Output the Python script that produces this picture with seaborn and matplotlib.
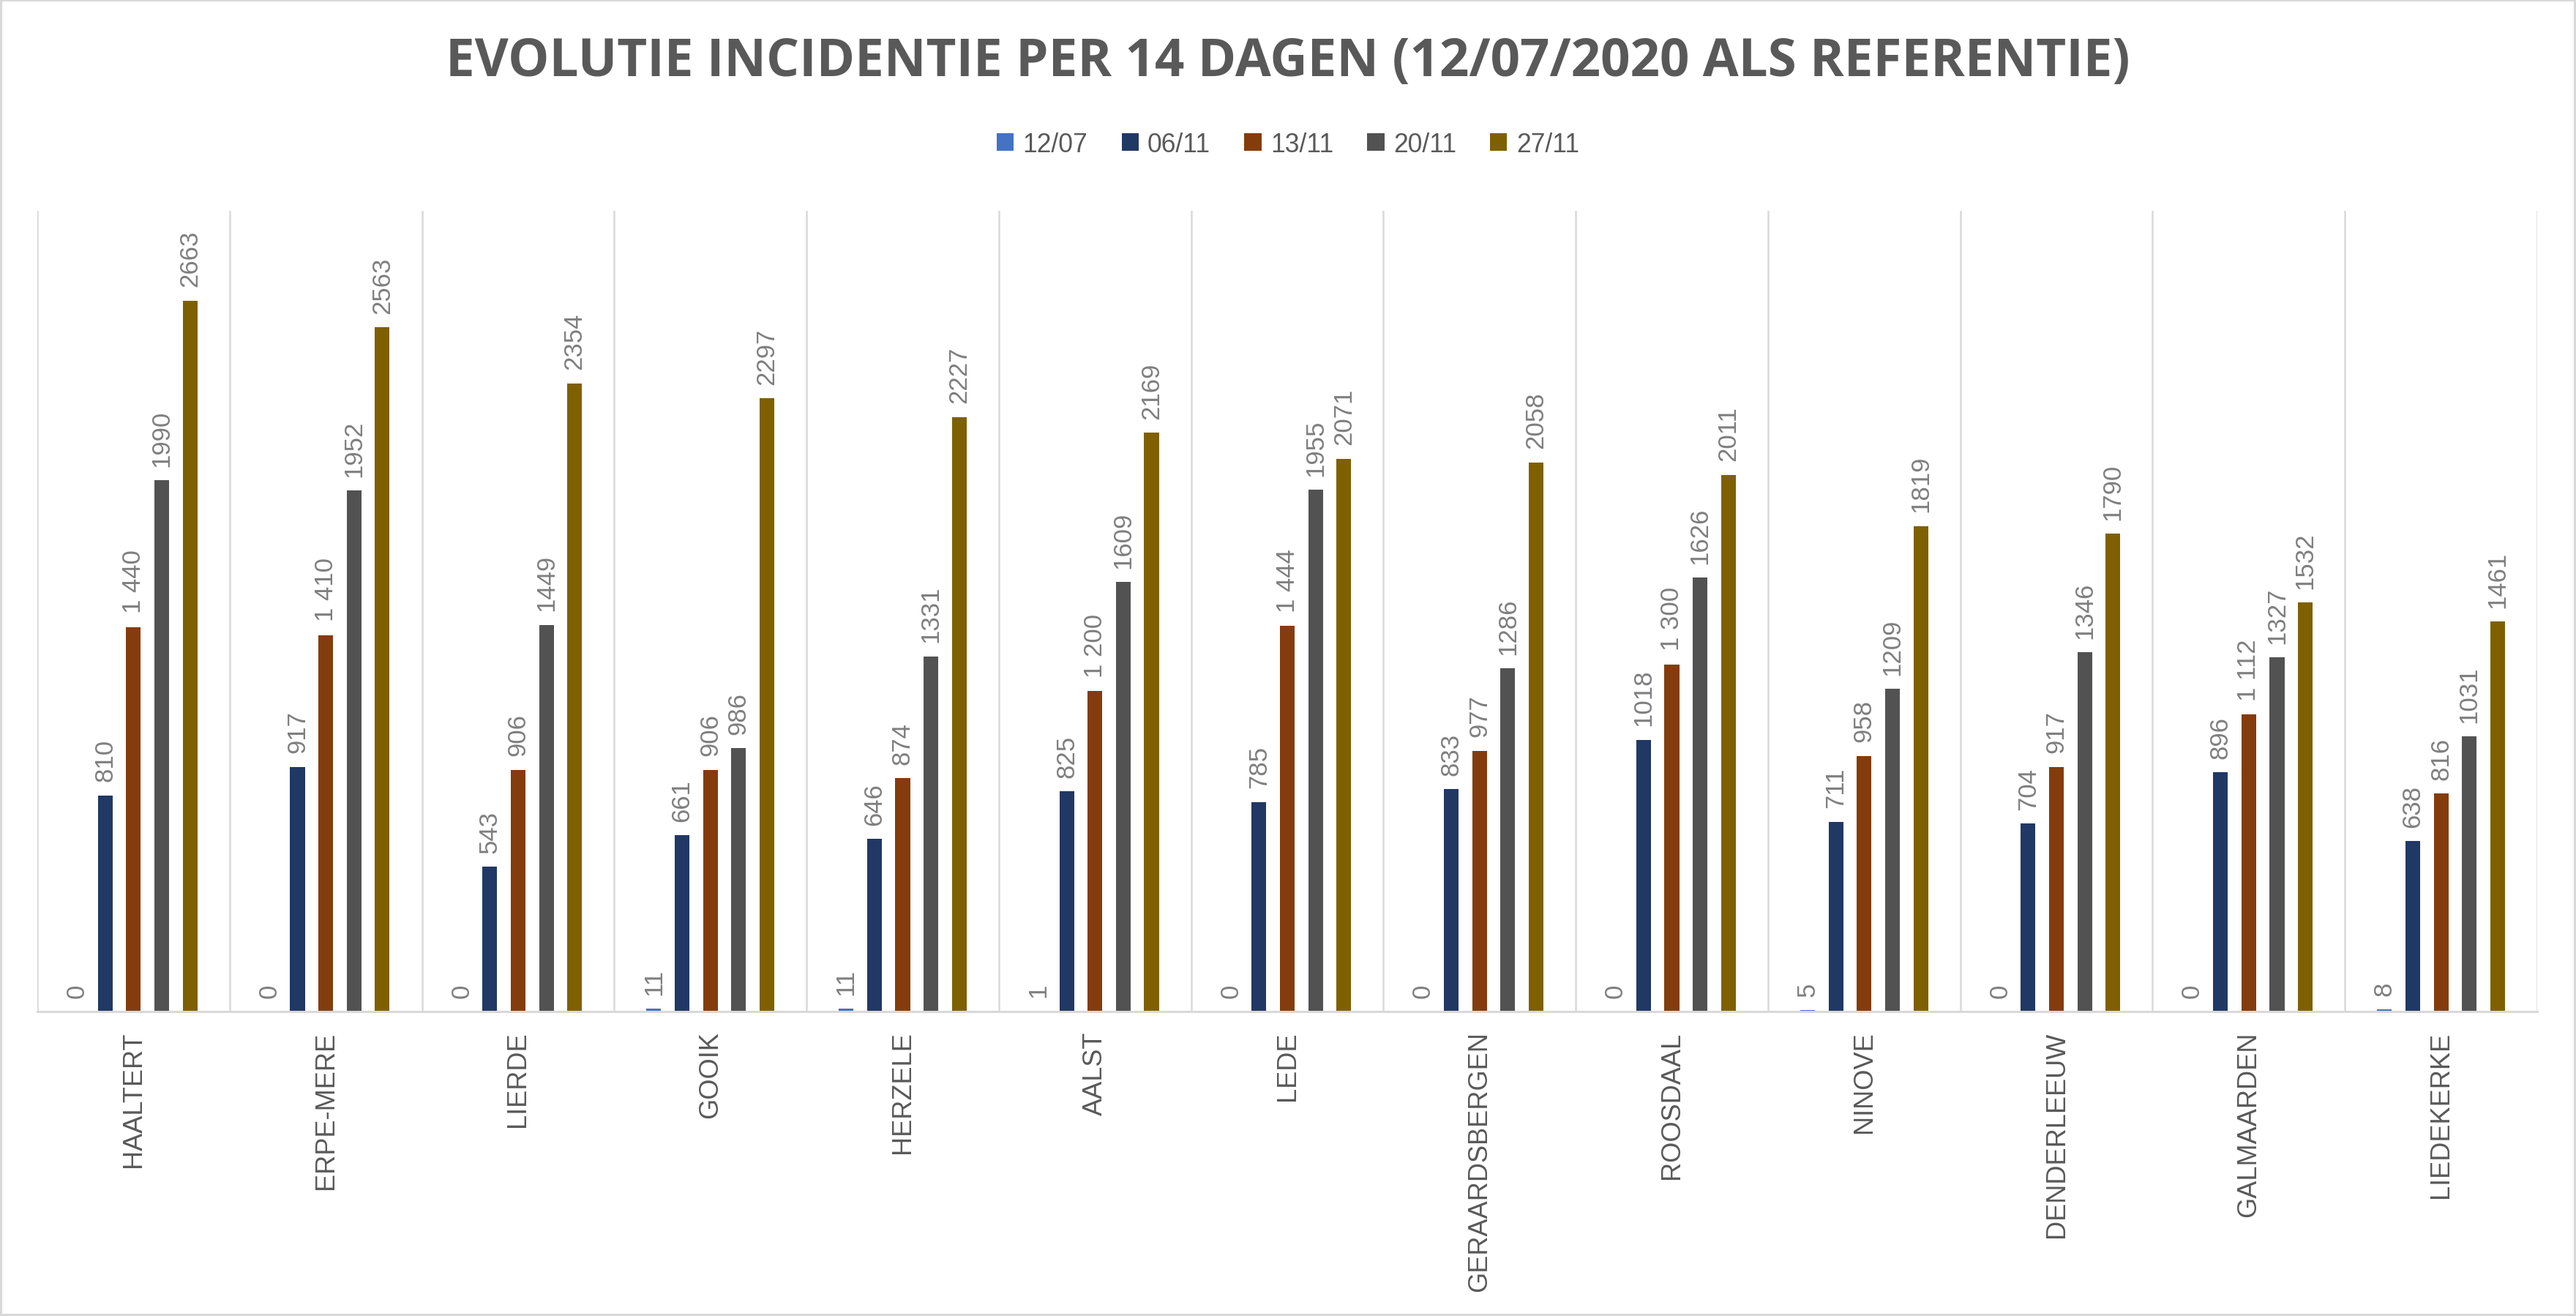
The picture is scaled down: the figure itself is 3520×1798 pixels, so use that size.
import numpy as np
import pandas as pd
import matplotlib
matplotlib.use("Agg")
import matplotlib.pyplot as plt
import seaborn as sns
from matplotlib.patches import Rectangle

# ---------------- data ----------------
gemeenten = ["HAALTERT", "ERPE-MERE", "LIERDE", "GOOIK", "HERZELE", "AALST", "LEDE",
             "GERAARDSBERGEN", "ROOSDAAL", "NINOVE", "DENDERLEEUW", "GALMAARDEN", "LIEDEKERKE"]
datums = ["12/07", "06/11", "13/11", "20/11", "27/11"]

v_1207 = [0, 0, 0, 11, 11, 1, 0, 0, 0, 5, 0, 0, 8]
v_0611 = [810, 917, 543, 661, 646, 825, 785, 833, 1018, 711, 704, 896, 638]
v_1311 = [1440, 1410, 906, 906, 874, 1200, 1444, 977, 1300, 958, 917, 1112, 816]
v_2011 = [1990, 1952, 1449, 986, 1331, 1609, 1955, 1286, 1626, 1209, 1346, 1327, 1031]
v_2711 = [2663, 2563, 2354, 2297, 2227, 2169, 2071, 2058, 2011, 1819, 1790, 1532, 1461]

series = {"12/07": v_1207, "06/11": v_0611, "13/11": v_1311, "20/11": v_2011, "27/11": v_2711}
# series whose data labels use a space as thousands separator
space_sep = ["13/11"]

kleuren = ["#4472C4", "#203864", "#843C0C", "#525252", "#7F6000"]

title = "EVOLUTIE INCIDENTIE PER 14 DAGEN (12/07/2020 ALS REFERENTIE)"

rows = []
for d in datums:
    for g, v in zip(gemeenten, series[d]):
        rows.append({"gemeente": g, "datum": d, "waarde": v})
df = pd.DataFrame(rows)

# ---------------- figure ----------------
sns.set_theme(style="white")
plt.rcParams["font.family"] = ["Liberation Sans", "DejaVu Sans"]

W, H, DPI = 3520, 1799, 200
fig = plt.figure(figsize=(W / DPI, H / DPI), dpi=DPI, facecolor="white")

left, right, top, bottom = 51, 3467, 289, 1383
ax = fig.add_axes([left / W, 1 - bottom / H, (right - left) / W, (bottom - top) / H])

sns.barplot(data=df, x="gemeente", y="waarde", hue="datum", order=gemeenten,
            hue_order=datums, palette=kleuren, width=0.735, gap=0.48,
            saturation=1, linewidth=0, errorbar=None, ax=ax, legend=True)

ax.set_ylim(0, 3000)
ax.set_xlim(-0.5, len(gemeenten) - 0.5)
ax.set_yticks([])
ax.set_xlabel("")
ax.set_ylabel("")

# vertical gridlines at category boundaries
ax.set_xticks(np.arange(-0.5, len(gemeenten), 1), minor=True)
ax.grid(which="minor", axis="x", color="#D9D9D9", linewidth=0.9)
ax.grid(which="major", visible=False)
ax.tick_params(axis="x", which="both", length=0, pad=9.5)
ax.tick_params(axis="x", which="major", labelsize=13, labelcolor="#595959", rotation=90)

for s in ["top", "left", "right"]:
    ax.spines[s].set_visible(False)
ax.spines["bottom"].set_color("#D9D9D9")
ax.spines["bottom"].set_linewidth(1.1)

# data labels
for cont, d in zip(ax.containers, datums):
    if d in space_sep:
        labels = [f"{v:,}".replace(",", " ") for v in series[d]]
    else:
        labels = [str(v) for v in series[d]]
    ax.bar_label(cont, labels=labels, rotation=90, padding=7,
                 fontsize=12.5, color="#7F7F7F")

# legend
handles, labs = ax.get_legend_handles_labels()
ax.get_legend().remove()
fig.legend(handles, labs, loc="center", bbox_to_anchor=(0.5, 1 - 198 / H), ncol=5,
           frameon=False, fontsize=12.8, labelcolor="#595959",
           handlelength=0.65, handleheight=0.65, handletextpad=0.35, columnspacing=1.3)

# title
fig.text(0.5, 1 - 85 / H, title, ha="center", va="center", fontsize=25.5,
         fontweight="bold", color="#595959", family=["Open Sans", "DejaVu Sans"])

# chart border
fig.patches.append(Rectangle((0, 0), 1, 1, transform=fig.transFigure, fill=False,
                             edgecolor="#D9D9D9", linewidth=2.2))

fig.savefig("out.png", dpi=DPI, facecolor="white")
